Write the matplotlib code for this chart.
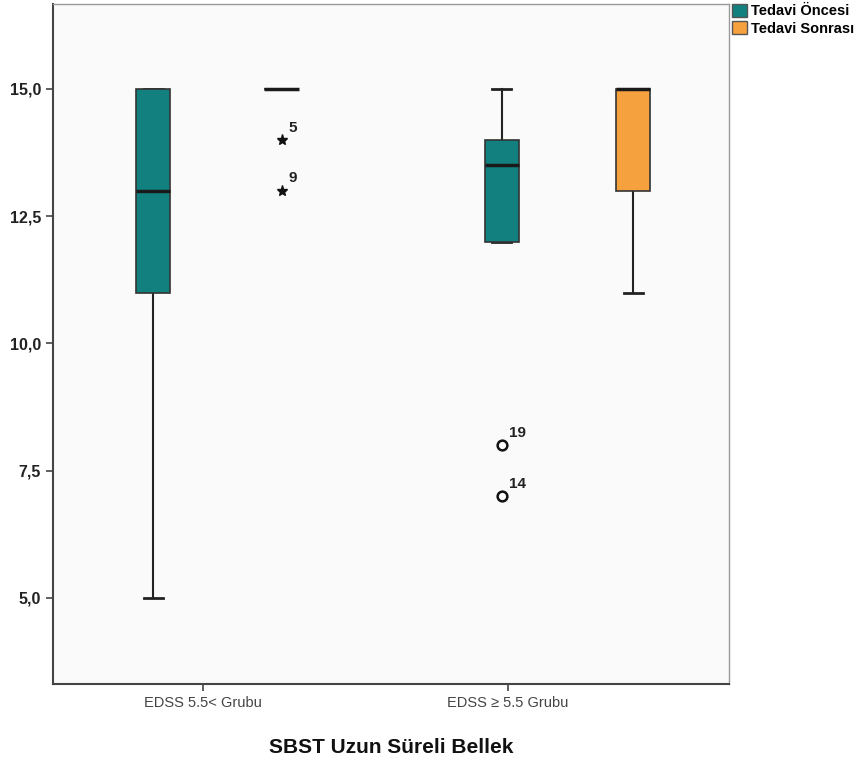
import matplotlib
matplotlib.use('Agg')
import matplotlib.pyplot as plt
from matplotlib.patches import Patch

plt.rcParams['font.family'] = ['Liberation Sans', 'DejaVu Sans']

# group labels and series
groups = ['EDSS 5.5< Grubu', 'EDSS \u2265 5.5 Grubu']
series = ['Tedavi \u00d6ncesi', 'Tedavi Sonras\u0131']
colors = ['#138080', '#f5a23e']

# box statistics per group: (before, after)
whislo = [[5.0, 15.0], [12.0, 11.0]]
q1 = [[11.0, 15.0], [12.0, 13.0]]
med = [[13.0, 15.0], [13.5, 15.0]]
q3 = [[15.0, 15.0], [14.0, 15.0]]
whishi = [[15.0, 15.0], [15.0, 15.0]]

# outliers: (group, series, value, case id, kind)
outliers = [
    (0, 1, 14.0, '5', 'extreme'),
    (0, 1, 13.0, '9', 'extreme'),
    (1, 0, 8.0, '19', 'outlier'),
    (1, 0, 7.0, '14', 'outlier'),
]

yticks = [5.0, 7.5, 10.0, 12.5, 15.0]

# layout (axes fraction along x)
box_pos = [[0.148, 0.338], [0.664, 0.858]]
tick_pos = [0.222, 0.673]
box_w = 0.051

fig = plt.figure(figsize=(8.67, 7.64), dpi=100)
ax = fig.add_axes([0.0611, 0.1047, 0.7799, 0.8901])
ax.set_facecolor('#fafafa')

for s in range(2):
    stats = []
    for g in range(2):
        stats.append(dict(med=med[g][s], q1=q1[g][s], q3=q3[g][s],
                          whislo=whislo[g][s], whishi=whishi[g][s], fliers=[]))
    ax.bxp(stats, positions=[box_pos[g][s] for g in range(2)], widths=box_w,
           patch_artist=True, showfliers=False,
           boxprops=dict(facecolor=colors[s], edgecolor='#333333', linewidth=1.2, zorder=3),
           medianprops=dict(color='#1a1a1a', linewidth=2.5, zorder=4),
           whiskerprops=dict(color='#222222', linewidth=1.5),
           capprops=dict(color='#222222', linewidth=2.0),
           capwidths=box_w * 0.55, manage_ticks=False)

for g, s, v, lab, kind in outliers:
    x = box_pos[g][s]
    if kind == 'extreme':
        ax.plot(x, v, marker='*', color='#111111', markersize=8, linestyle='none')
    else:
        ax.plot(x, v, marker='o', markerfacecolor='none', markeredgecolor='#111111',
                markeredgewidth=1.8, markersize=7, linestyle='none')
    ax.annotate(lab, (x, v), xytext=(5, 6), textcoords='offset points',
                fontsize=11, fontweight='bold', color='#222222')

ax.set_xlim(0, 1)
ax.set_ylim(3.31, 16.67)
ax.set_yticks(yticks)
ax.set_yticklabels([f'{t:.1f}'.replace('.', ',') for t in yticks],
                   fontsize=11.5, fontweight='bold', color='#222222')
ax.set_xticks(tick_pos)
ax.set_xticklabels(groups, fontsize=10.5, color='#444444')
ax.tick_params(axis='both', length=5, width=1.2, color='#444444')
for side in ['left', 'bottom']:
    ax.spines[side].set_color('#444444')
    ax.spines[side].set_linewidth(1.5)
for side in ['top', 'right']:
    ax.spines[side].set_color('#999999')
    ax.spines[side].set_linewidth(1.0)

ax.set_xlabel('SBST Uzun S\u00fcreli Bellek', fontsize=15, fontweight='bold',
              color='#111111', labelpad=20)

handles = [Patch(facecolor=c, edgecolor='#555555') for c in colors]
fig.legend(handles, series, loc='upper left', bbox_to_anchor=(0.843, 0.997),
           frameon=False, prop=dict(size=10.5, weight='bold'), handlelength=1.0,
           handleheight=1.0, handletextpad=0.3, labelspacing=0.2,
           borderaxespad=0.0, borderpad=0.1)

fig.savefig('out.png', dpi=100)
